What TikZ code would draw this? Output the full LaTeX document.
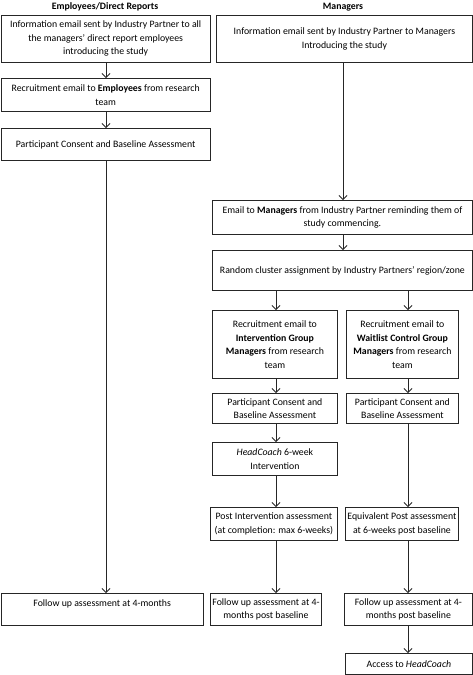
\documentclass[tikz,border=0pt]{standalone}
\usepackage{fontspec}
\setmainfont{Carlito}
\usetikzlibrary{arrows.meta}
\tikzset{
	box/.style={draw=black!85, line width=0.8pt, anchor=north west, align=center, inner sep=2pt, font=\fontsize{9.8pt}{13.5pt}\selectfont},
	head/.style={anchor=center, font=\fontsize{9.8pt}{13.5pt}\selectfont\bfseries},
	arr/.style={draw=black!85, line width=0.8pt, -{Straight Barb[length=4pt,width=8pt]}}
}
\begin{document}
\begin{tikzpicture}[x=1pt, y=-1pt]
				\useasboundingbox (0,0) rectangle (473,675);
				\coordinate (ec) at (106,0);
				\coordinate (mc) at (343,0);
				\coordinate (lc) at (276,0);
				\coordinate (rc) at (408,0);
				\node[head] (hdE) at (105,7) {Employees/Direct Reports};
				\node[head] (hdM) at (343,7) {Managers};
				\node[box, minimum width=209.5pt, minimum height=47pt] (e1) at (0.5,15) {Information email sent by Industry Partner to all\\the managers’ direct report employees\\introducing the study};
				\node[box, minimum width=209.5pt, minimum height=33pt] (e2) at (0.5,78) {Recruitment email to \textbf{Employees} from research\\team};
				\node[box, minimum width=209.5pt, minimum height=32pt] (e3) at (0.5,128) {Participant Consent and Baseline Assessment};
				\node[box, minimum width=202.5pt, minimum height=32pt, text depth=12pt] (e4) at (0.5,593) {Follow up assessment at 4-months};
				\node[box, minimum width=256pt, minimum height=47pt] (m1) at (216,15) {Information email sent by Industry Partner to Managers\\Introducing the study};
				\node[box, minimum width=260pt, minimum height=34pt] (m2) at (212,200) {Email to \textbf{Managers} from Industry Partner reminding them of\\study commencing.};
				\node[box, minimum width=260pt, minimum height=40pt] (m3) at (212,250) {Random cluster assignment by Industry Partners’ region/zone};
				\node[box, minimum width=125pt, minimum height=68pt] (m4l) at (212,310) {Recruitment email to\\\textbf{Intervention Group}\\\textbf{Managers} from research\\team};
				\node[box, minimum width=112pt, minimum height=68pt] (m4r) at (346,310) {Recruitment email to\\\textbf{Waitlist Control Group}\\\textbf{Managers} from research\\team};
				\node[box, minimum width=125pt, minimum height=30pt] (m5l) at (212,393) {Participant Consent and\\Baseline Assessment};
				\node[box, minimum width=112pt, minimum height=30pt] (m5r) at (346,393) {Participant Consent and\\Baseline Assessment};
				\node[box, minimum width=125pt, minimum height=33pt] (m6l) at (212,442) {\textit{HeadCoach} 6-week\\Intervention};
				\node[box, minimum width=127pt, minimum height=33pt] (m7l) at (210,507) {Post Intervention assessment\\(at completion: max 6-weeks)};
				\node[box, minimum width=113pt, minimum height=33pt] (m7r) at (345,507) {Equivalent Post assessment\\at 6-weeks post baseline};
				\node[box, minimum width=106pt, minimum height=32pt] (m8l) at (210,593) {Follow up assessment at 4-\\months post baseline};
				\node[box, minimum width=128pt, minimum height=32pt] (m8r) at (344,593) {Follow up assessment at 4-\\months post baseline};
				\node[box, minimum width=127pt, minimum height=21pt] (m9) at (345,653) {Access to \textit{HeadCoach}};
				\draw[arr] (e1.south -| ec) -- (e2.north -| ec);
				\draw[arr] (e2.south -| ec) -- (e3.north -| ec);
				\draw[arr] (e3.south -| ec) -- (e4.north -| ec);
				\draw[arr] (m1.south -| mc) -- (m2.north -| mc);
				\draw[arr] (m2.south -| mc) -- (m3.north -| mc);
				\draw[arr] (m3.south -| lc) -- (m4l.north -| lc);
				\draw[arr] (m3.south -| rc) -- (m4r.north -| rc);
				\draw[arr] (m4l.south -| lc) -- (m5l.north -| lc);
				\draw[arr] (m5l.south -| lc) -- (m6l.north -| lc);
				\draw[arr] (m6l.south -| lc) -- (m7l.north -| lc);
				\draw[arr] (m7l.south -| lc) -- (m8l.north -| lc);
				\draw[arr] (m4r.south -| rc) -- (m5r.north -| rc);
				\draw[arr] (m5r.south -| rc) -- (m7r.north -| rc);
				\draw[arr] (m7r.south -| rc) -- (m8r.north -| rc);
				\draw[arr] (m8r.south -| rc) -- (m9.north -| rc);
			\end{tikzpicture}
\end{document}
